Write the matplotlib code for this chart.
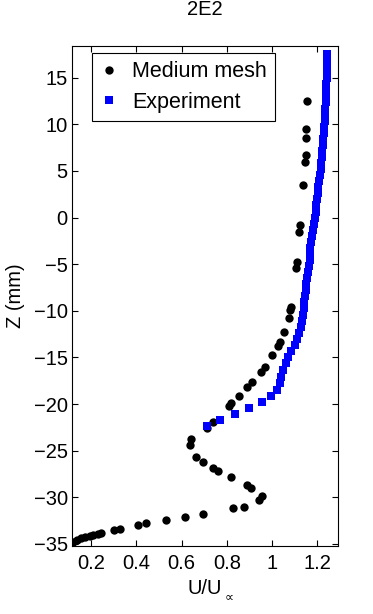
import matplotlib
matplotlib.use("Agg")
import matplotlib.pyplot as plt

# Medium mesh (CFD) profile: U/Uinf, Z (mm)
mesh_u = [1.153, 1.150, 1.150, 1.147, 1.145, 1.135, 1.122, 1.119, 1.111, 1.107,
          1.083, 1.080, 1.074, 1.052, 1.033, 1.027, 0.999, 0.967, 0.952, 0.912,
          0.890, 0.853, 0.818, 0.808, 0.739, 0.710, 0.640, 0.636, 0.665, 0.695,
          0.737, 0.761, 0.819, 0.887, 0.908, 0.956, 0.942, 0.875, 0.827, 0.695,
          0.614, 0.530, 0.442, 0.408, 0.325, 0.301, 0.244, 0.232, 0.210, 0.193,
          0.174, 0.156, 0.137, 0.120]
mesh_z = [12.47, 9.47, 8.5, 6.7, 6.0, 3.5, -0.8, -1.5, -4.75, -5.4,
          -9.55, -9.9, -10.8, -12.3, -13.3, -13.8, -14.7, -16.0, -16.6, -17.65,
          -18.2, -19.1, -19.9, -20.2, -21.9, -22.6, -23.8, -24.4, -25.7, -26.25,
          -26.85, -27.2, -27.8, -28.65, -29.0, -29.9, -30.25, -31.0, -31.15, -31.75,
          -32.1, -32.4, -32.8, -33.0, -33.4, -33.5, -33.8, -33.9, -34.0, -34.15,
          -34.26, -34.4, -34.55, -34.75]

# Experiment
exp_u = [0.710, 0.770, 0.836, 0.898, 0.956, 0.995, 1.021, 1.033, 1.040, 1.047,
         1.062, 1.069, 1.084, 1.099, 1.108, 1.118, 1.128, 1.132, 1.136, 1.139,
         1.142, 1.145, 1.148, 1.151, 1.154, 1.157, 1.161, 1.165, 1.167, 1.169,
         1.172, 1.175, 1.180, 1.185, 1.189, 1.192, 1.195, 1.198, 1.201, 1.204,
         1.207, 1.211, 1.214, 1.217, 1.220, 1.222, 1.224, 1.226, 1.228, 1.230,
         1.232, 1.233, 1.235, 1.236, 1.237, 1.238, 1.239, 1.240, 1.241, 1.242,
         1.243, 1.244]
exp_z = [-22.4, -21.7, -21.05, -20.4, -19.8, -19.15, -18.45, -17.75, -17.05, -16.35,
         -15.65, -15.0, -14.35, -13.7, -13.0, -12.35, -11.7, -11.05, -10.4, -9.75,
         -9.1, -8.45, -7.8, -7.15, -6.5, -5.85, -5.2, -4.55, -3.9, -3.25,
         -2.6, -1.95, -1.3, -0.65, 0.0, 0.65, 1.3, 1.95, 2.6, 3.25,
         3.9, 4.55, 5.2, 5.85, 6.5, 7.15, 7.8, 8.45, 9.1, 9.75,
         10.4, 11.05, 11.7, 12.35, 13.0, 13.65, 14.3, 14.95, 15.6, 16.25,
         16.9, 17.6]

xticks = [0.2, 0.4, 0.6, 0.8, 1, 1.2]
xticklabels = ["0.2", "0.4", "0.6", "0.8", "1", "1.2"]
yticks = [-35, -30, -25, -20, -15, -10, -5, 0, 5, 10, 15]

plt.rcParams['font.family'] = ['Liberation Sans', 'DejaVu Sans']
fs = 14.5

fig = plt.figure(figsize=(3.73, 6.14), dpi=100)
ax = fig.add_axes([0.193, 0.111, 0.714, 0.814])

ax.plot(mesh_u, mesh_z, 'o', color='black', markersize=6, mew=0, label="Medium mesh")
ax.plot(exp_u, exp_z, 's', color=(0, 0, 1), markersize=6.2, mew=0, label="Experiment")

ax.set_xlim(0.115, 1.292)
ax.set_ylim(-35.21, 18.4)
ax.set_xticks(xticks)
ax.set_xticklabels(xticklabels)
ax.set_yticks(yticks)
ax.tick_params(direction='in', top=True, right=True, length=4, width=0.8,
               labelsize=fs, colors='black')
ax.tick_params(axis='x', pad=6)
ax.tick_params(axis='y', pad=3)
for s in ax.spines.values():
    s.set_linewidth(0.8)

ax.set_title("2E2", fontsize=fs, pad=22)
xl = ax.set_xlabel("U/U", fontsize=fs, labelpad=4)
ax.set_ylabel("Z (mm)", fontsize=fs, labelpad=6)
# subscript drawn small and low, as in the original
ax.annotate("\u221d", xy=(1, 0), xycoords=xl, xytext=(1.5, 1.0),
            textcoords='offset points', fontsize=9, ha='left', va='center',
            family='DejaVu Sans')

leg = ax.legend(loc='upper left', bbox_to_anchor=(0.075, 0.986), borderaxespad=0,
                fontsize=15.5, fancybox=False, edgecolor='black', framealpha=1,
                handlelength=0.8, handletextpad=0.7, borderpad=0.38,
                labelspacing=0.45)
leg.get_frame().set_linewidth(0.8)

fig.savefig("out.png", dpi=100)
